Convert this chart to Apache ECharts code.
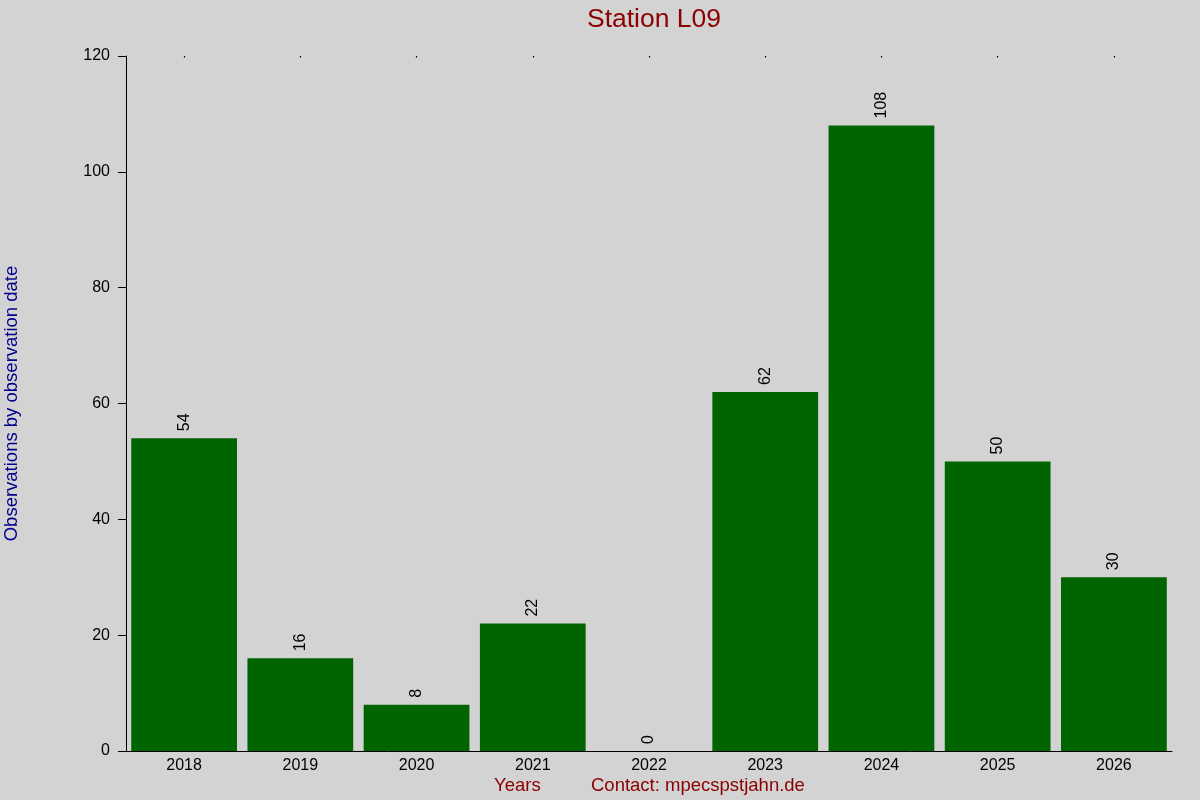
<!DOCTYPE html>
<html>
<head>
<meta charset="utf-8">
<script src="https://cdn.jsdelivr.net/npm/echarts@6/dist/echarts.min.js"></script>
<style>
  html, body { margin: 0; padding: 0; background: #d3d3d3; }
  #chart { width: 1200px; height: 800px; }
</style>
</head>
<body>
<div id="chart"></div>
<script>
const years = ['2018', '2019', '2020', '2021', '2022', '2023', '2024', '2025', '2026'];
const observations = [54, 16, 8, 22, 0, 62, 108, 50, 30];
const yTicks = [0, 20, 40, 60, 80, 100, 120];

const chart = echarts.init(document.getElementById('chart'));
const font = 'Liberation Sans, Arial, sans-serif';

const option = {
  backgroundColor: '#d3d3d3',
  animation: false,
  title: {
    text: 'Station L09',
    left: 649,
    textAlign: 'center',
    top: 1,
    textStyle: { color: '#8b0000', fontSize: 26.5, fontWeight: 'normal', fontFamily: font }
  },
  grid: { left: 126, right: 28, top: 56, bottom: 49, containLabel: false, outerBoundsMode: 'none' },
  graphic: [
    { type: 'text', left: 494, top: 776, style: { text: 'Years', fill: '#8b0000', fontSize: 18.5, fontFamily: font } },
    { type: 'text', left: 591, top: 776, style: { text: 'Contact: mpecspstjahn.de', fill: '#8b0000', fontSize: 18.5, fontFamily: font } }
  ],
  xAxis: [
    {
      type: 'category',
      data: years,
      axisLine: { show: true, lineStyle: { color: '#000', width: 1 } },
      axisTick: { show: false },
      axisLabel: { color: '#000', fontSize: 16, margin: 7, fontFamily: font },
      splitLine: { show: false }
    },
    {
      type: 'category',
      data: years,
      position: 'top',
      axisLine: { show: false },
      axisTick: { show: true, alignWithLabel: true, length: 1.5, inside: true, lineStyle: { color: '#000', width: 1.2 } },
      axisLabel: { show: false }
    }
  ],
  yAxis: {
    type: 'value',
    min: yTicks[0],
    max: yTicks[yTicks.length - 1],
    interval: 20,
    name: 'Observations by observation date',
    nameLocation: 'middle',
    nameGap: 105,
    nameTextStyle: { color: '#00008b', fontSize: 18.5, fontFamily: font },
    axisLine: { show: true, lineStyle: { color: '#000', width: 1 } },
    axisTick: { show: true, length: 8, lineStyle: { color: '#000' } },
    axisLabel: { color: '#000', fontSize: 16, margin: 16, fontFamily: font },
    splitLine: { show: false }
  },
  series: [{
    type: 'bar',
    data: observations,
    barCategoryGap: '9%',
    itemStyle: { color: '#006400' },
    label: {
      show: true,
      position: 'top',
      rotate: 90,
      align: 'left',
      verticalAlign: 'middle',
      distance: 7,
      color: '#000',
      fontSize: 16,
      fontFamily: font
    }
  }]
};

chart.setOption(option);
</script>
</body>
</html>
